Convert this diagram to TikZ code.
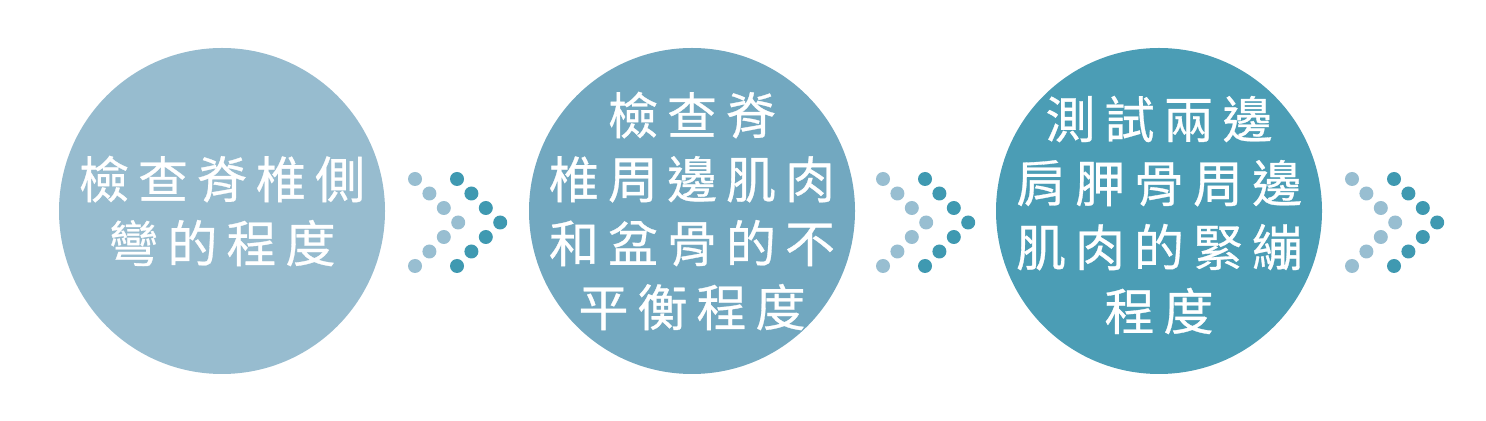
\documentclass[tikz,border=0pt]{standalone}
\usepackage{fontspec}
\newfontfamily\cjk[LetterSpace=18,FakeBold=0.6]{Noto Sans CJK TC}
\definecolor{paleblue}{HTML}{97BCCF}
\definecolor{midblue}{HTML}{72A8C0}
\definecolor{deepblue}{HTML}{4B9DB5}
\definecolor{lightdot}{HTML}{98BED1}
\definecolor{darkdot}{HTML}{3F99B1}
\tikzset{
  stage/.style={circle, minimum size=163pt, inner sep=0pt},
  stagetext/.style={text=white, align=center, inner sep=0pt,
    font=\cjk\fontsize{25pt}{32pt}\selectfont},
  dot/.style={circle, minimum size=7pt, inner sep=0pt}
}
\begin{document}
\begin{tikzpicture}[x=0.5pt, y=-0.5pt]
      \useasboundingbox (0,0) rectangle (1486,421);
      \node[stage, fill=paleblue] (0) at (222,211) {};
      \node[stage, fill=midblue] (1) at (692,211) {};
      \node[stage, fill=deepblue] (2) at (1159,211) {};
      \node[stagetext] (t0) at (0) {檢查脊椎側\\彎的程度};
      \node[stagetext] (t1) at (1) {檢查脊\\椎周邊肌肉\\和盆骨的不\\平衡程度};
      \node[stagetext] (t2) at ([yshift=-2pt]2) {測試兩邊\\肩胛骨周邊\\肌肉的緊繃\\程度};
      \begin{scope}
        \foreach \gx in {415,883,1352}
          \foreach \k in {0,...,6} {
            \pgfmathsetmacro\dx{14.4*(3-abs(\k-3))}
            \fill[lightdot] (\gx+\dx,179+14.5*\k) circle[radius=3.5pt];
            \fill[darkdot] (\gx+42+\dx,179+14.5*\k) circle[radius=3.5pt];
          }
      \end{scope}
    \end{tikzpicture}
\end{document}
